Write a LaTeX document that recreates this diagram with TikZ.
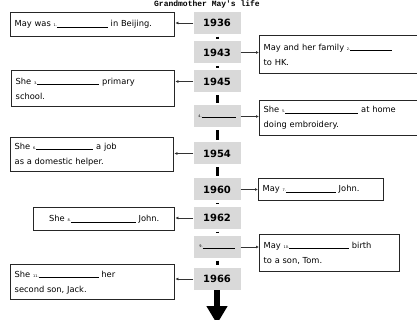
\documentclass[tikz,border=0pt]{standalone}
\usepackage{fontspec}
\setmainfont{DejaVu Sans}
\setmonofont{Liberation Mono}
\usetikzlibrary{arrows.meta}
\newcommand{\fillin}[2]{{\fontsize{3.5}{4}\selectfont #1.}\rule[-0.6pt]{#2pt}{0.6pt}}

\begin{document}
\begin{tikzpicture}[x=1pt,y=-1pt,
	year/.style={fill=black!15,minimum width=47pt,minimum height=22pt,inner sep=0pt,font=\fontsize{10}{12}\selectfont\bfseries},
	event/.style={draw=black!85,line width=1.4pt,inner sep=4pt,align=left,anchor=north west,font=\fontsize{8.3}{15}\selectfont},
	link/.style={-{Latex[length=3pt,width=3pt]},line width=0.7pt,black!80},
	stem/.style={line width=3pt,shorten <=2.5pt,shorten >=2.5pt}]
	\useasboundingbox (0,0) rectangle (417,320);
	\node[font=\ttfamily\bfseries\fontsize{8}{8}\selectfont,inner sep=0pt] (title) at (207,4.5) {Grandmother May's life};
	\node[year] (y36) at (217,23) {1936};
	\node[year] (y43) at (217,52.5) {1943};
	\node[year] (y45) at (217,81.5) {1945};
	\node[year,font=\fontsize{8}{10}\selectfont] (y4) at (217,116.5) {\fillin{4}{34}};
	\node[year] (y54) at (217,153.5) {1954};
	\node[year] (y60) at (217,189.5) {1960};
	\node[year] (y62) at (217,218) {1962};
	\node[year,font=\fontsize{8}{10}\selectfont] (y9) at (217,247) {\fillin{9}{32}};
	\node[year] (y66) at (217,279) {1966};
	\coordinate (tip) at (217,324);
	\node[event,text width=156pt,minimum height=24pt] (m1) at (10,12) {May was \fillin{1}{51} in Beijing.};
	\node[event,text width=162pt,minimum height=38pt] (m2) at (259,35) {May and her family \fillin{2}{42}\\to HK.};
	\node[event,text width=155pt,minimum height=36pt] (m3) at (11,70) {She \fillin{3}{62} primary\\school.};
	\node[event,text width=162pt,minimum height=35pt] (m5) at (259,100) {She \fillin{5}{73} at home\\doing embroidery.};
	\node[event,text width=155pt,minimum height=34pt] (m6) at (10,137) {She \fillin{6}{57} a job\\as a domestic helper.};
	\node[event,text width=117pt,minimum height=22pt] (m7) at (258,178) {May \fillin{7}{50} John.};
	\node[event,text width=133pt,minimum height=23pt,align=center] (m8) at (33,207) {She \fillin{8}{65} John.};
	\node[event,text width=132pt,minimum height=37pt] (m10) at (259,234) {May \fillin{10}{60} birth\\to a son, Tom.};
	\node[event,text width=156pt,minimum height=35pt] (m11) at (10,264) {She \fillin{11}{60} her\\second son, Jack.};
	\draw[stem] (y36.south) -- (y43.north);
	\draw[stem] (y43.south) -- (y45.north);
	\draw[stem] (y45.south) -- (y4.north);
	\draw[stem] (y4.south) -- (y54.north);
	\draw[stem] (y54.south) -- (y60.north);
	\draw[stem] (y60.south) -- (y62.north);
	\draw[stem] (y62.south) -- (y9.north);
	\draw[stem] (y9.south) -- (y66.north);
	\draw[line width=6pt,-{Triangle[width=20pt,length=18pt]}] (y66.south) -- (tip);
	\draw[link] (y36.west) -- (y36.west -| m1.east);
	\draw[link] (y43.east) -- (y43.east -| m2.west);
	\draw[link] (y45.west) -- (y45.west -| m3.east);
	\draw[link] (y4.east) -- (y4.east -| m5.west);
	\draw[link] (y54.west) -- (y54.west -| m6.east);
	\draw[link] (y60.east) -- (y60.east -| m7.west);
	\draw[link] (y62.west) -- (y62.west -| m8.east);
	\draw[link] (y9.east) -- (y9.east -| m10.west);
	\draw[link] (y66.west) -- (y66.west -| m11.east);
\end{tikzpicture}
\end{document}
